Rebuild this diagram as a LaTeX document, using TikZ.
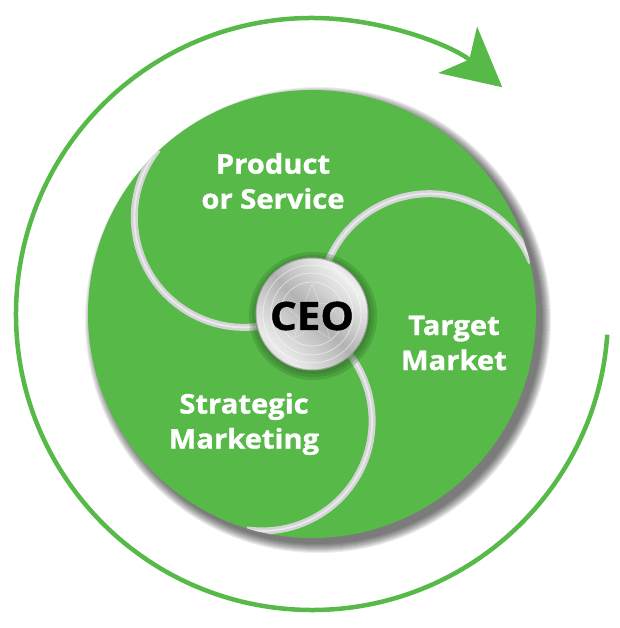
\documentclass[tikz,border=0pt]{standalone}
\usepackage{fontspec}
\setsansfont{Open Sans}
\newfontfamily\roundfont[BoldFeatures={FakeStretch=1.08,FakeBold=1.2}]{Open Sans}
\usetikzlibrary{arrows.meta,shapes.geometric}
\definecolor{leafgreen}{RGB}{86,185,72}
\definecolor{swirlgray}{RGB}{212,212,215}
\pgfdeclarehorizontalshading{silver}{100bp}{color(0bp)=(black!45); color(28bp)=(black!8); color(50bp)=(black!30); color(72bp)=(black!6); color(100bp)=(black!45)}
\begin{document}
\begin{tikzpicture}[x=1pt,y=1pt,
	lobe/.style={font=\roundfont\bfseries\fontsize{27}{35}\selectfont,text=white,align=center},
	swirl/.style={swirlgray,line width=7pt,postaction={draw=white,line width=2pt,opacity=.5}},
	ring/.style={leafgreen,line width=4.5pt}]
	\useasboundingbox (-312,-314) rectangle (307,314);
	\coordinate (hub) at (0,0);
	\foreach \k in {0,...,9}
		\fill [black,opacity=0.07] (hub) ++(6,-6) circle ({224+\k});
	\fill [leafgreen] (hub) circle (224);
	\begin{scope}
		\clip (hub) circle (224);
		\foreach \a in {125,5,245}
			\draw [swirl] (hub) ++(\a:118) ++(\a-205:110) arc [start angle=\a-205,end angle=\a-343,radius=110];
	\end{scope}
	\foreach \r in {64,61,58}
		\fill [leafgreen!55!black,opacity=.25] (hub) ++(1,-2) circle (\r);
	\shade [shading=silver,shading angle=45,draw=black!35,line width=1pt] (hub) circle (56);
	\foreach \r in {49,41,32}
		\draw [white,opacity=.5,line width=.8pt] (hub) circle (\r);
	\node [star,star points=5,star point ratio=2.3,minimum size=60pt,draw=white,opacity=.45] (emblem) at (hub) {};
	\node [circle,minimum size=112pt,inner sep=0pt,font=\roundfont\bfseries\fontsize{39}{39}\selectfont] (ceo) at (0,-2) {CEO};
	\node [lobe] (product) at (-39,133) {Product\\or Service};
	\node [lobe] (target) at (142,-29) {Target\\Market};
	\node [lobe] (strategic) at (-68,-110) {Strategic\\Marketing};
	\draw [ring] [-{Stealth[length=58pt,width=60pt,inset=15pt]}] (hub) ++(-4:296) arc [start angle=-4,end angle=-310,radius=296];
\end{tikzpicture}
\end{document}
